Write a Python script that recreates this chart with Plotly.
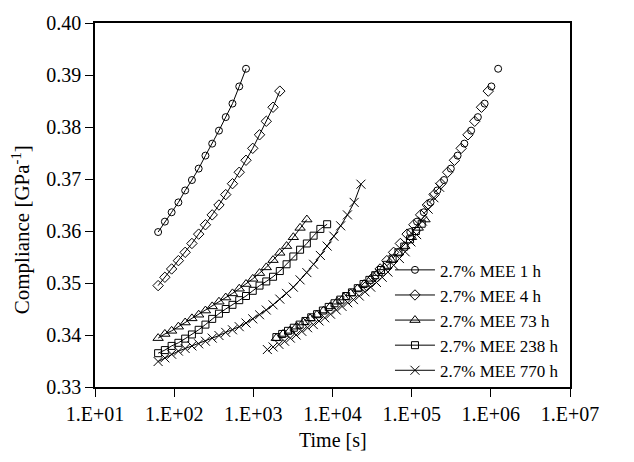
import plotly.graph_objects as go

# Creep compliance of 2.7% MEE specimens after different ageing times.
# Each ageing time has a short-term test (drawn with lines) and the same
# data shifted onto the long-term master curve (markers only).

labels = ["2.7% MEE 1 h", "2.7% MEE 4 h", "2.7% MEE 73 h",
          "2.7% MEE 238 h", "2.7% MEE 770 h"]

# --- short-term tests: time [s] and compliance [1/GPa] ---
t_1h = [62.7, 76.3, 92.9, 113.1, 137.7, 167.6, 204.0, 248.3, 302.3, 368.0,
        447.9, 545.3, 663.7, 808.0]
c_1h = [0.3598, 0.3618, 0.3636, 0.3655, 0.3678, 0.3698, 0.3720, 0.3745,
        0.3768, 0.3793, 0.3819, 0.3845, 0.3878, 0.3912]

t_4h = [62.7, 76.3, 92.9, 113.1, 137.7, 167.6, 204.0, 248.3, 302.3, 368.0,
        447.9, 545.3, 663.7, 808.0, 983.5, 1197, 1457, 1774, 2160]
c_4h = [0.3495, 0.3511, 0.3527, 0.3543, 0.3559, 0.3576, 0.3594, 0.3612,
        0.3631, 0.3650, 0.3670, 0.3691, 0.3713, 0.3736, 0.3759, 0.3785,
        0.3811, 0.3838, 0.3869]

t_73h = [62.7, 76.3, 92.9, 113.1, 137.7, 167.6, 204.0, 248.3, 302.3, 368.0,
         447.9, 545.3, 663.7, 808.0, 983.5, 1197, 1457, 1774, 2160, 2629,
         3200, 3896, 4742]
c_73h = [0.3394, 0.3402, 0.3408, 0.3416, 0.3424, 0.3432, 0.3439, 0.3447,
         0.3455, 0.3464, 0.3472, 0.3480, 0.3489, 0.3498, 0.3508, 0.3519,
         0.3530, 0.3544, 0.3558, 0.3571, 0.3588, 0.3606, 0.3622]

t_238h = [62.7, 76.3, 92.9, 113.1, 137.7, 167.6, 204.0, 248.3, 302.3, 368.0,
          447.9, 545.3, 663.7, 808.0, 983.5, 1197, 1457, 1774, 2160, 2629,
          3200, 3896, 4742, 5773, 7027, 8554]
c_238h = [0.3365, 0.3371, 0.3379, 0.3385, 0.3393, 0.3401, 0.3410, 0.3420,
          0.3431, 0.3441, 0.3450, 0.3458, 0.3467, 0.3475, 0.3485, 0.3495,
          0.3503, 0.3512, 0.3523, 0.3536, 0.3551, 0.3564, 0.3576, 0.3591,
          0.3604, 0.3613]

t_770h = [62.7, 76.3, 92.9, 113.1, 137.7, 167.6, 204.0, 248.3, 302.3, 368.0,
          447.9, 545.3, 663.7, 808.0, 983.5, 1197, 1457, 1774, 2160, 2629,
          3200, 3896, 4742, 5773, 7027, 8554, 10413, 12676, 15431, 18784,
          22866]
c_770h = [0.3349, 0.3356, 0.3363, 0.3369, 0.3374, 0.3379, 0.3383, 0.3388,
          0.3394, 0.3399, 0.3405, 0.3410, 0.3416, 0.3423, 0.3431, 0.3439,
          0.3448, 0.3458, 0.3469, 0.3480, 0.3492, 0.3506, 0.3520, 0.3536,
          0.3553, 0.3571, 0.3590, 0.3610, 0.3631, 0.3655, 0.3690]

# --- shifted data on the master curve ---
ts_1h = [95994, 116815, 142230, 173156, 210819, 256596, 312324, 380147,
         462821, 563408, 685735, 834854, 1016125, 1237048]
cs_1h = c_1h

ts_4h = [26930, 32771, 39901, 48576, 59142, 71984, 87618, 106645, 129838,
         158056, 192373, 234206, 285059, 347036, 422413, 514112, 625782,
         761933, 927720]
cs_4h = c_4h

ts_73h = [1950, 2373, 2889, 3517, 4282, 5212, 6344, 7722, 9402, 11445,
          13930, 16959, 20641, 25129, 30587, 37227, 45313, 55171, 67176,
          81762, 99520, 121166, 147476]
cs_73h = c_73h

ts_238h = [1955, 2316, 2742, 3246, 3844, 4551, 5389, 6385, 7557, 8950,
           10600, 12548, 14866, 17602, 20845, 24683, 29227, 34613, 40997,
           48542, 57475, 68071, 80597, 95443, 113050, 133875]
cs_238h = [0.3396, 0.3402, 0.3408, 0.3414, 0.3420, 0.3427, 0.3434, 0.3440,
           0.3447, 0.3454, 0.3461, 0.3468, 0.3475, 0.3482, 0.3490, 0.3498,
           0.3506, 0.3515, 0.3525, 0.3535, 0.3547, 0.3559, 0.3570, 0.3584,
           0.3600, 0.3614]

ts_770h = [1504, 1777, 2101, 2482, 2934, 3467, 4097, 4841, 5722, 6761,
           7990, 9443, 11159, 13187, 15584, 18416, 21763, 25720, 30394,
           35916, 42444, 50157, 59272, 70048, 82777, 97837, 115635, 136648,
           161493, 190850, 225550]
cs_770h = [0.3372, 0.3377, 0.3382, 0.3388, 0.3394, 0.3400, 0.3407, 0.3414,
           0.3420, 0.3427, 0.3433, 0.3440, 0.3448, 0.3455, 0.3462, 0.3468,
           0.3475, 0.3483, 0.3492, 0.3501, 0.3511, 0.3521, 0.3534, 0.3547,
           0.3560, 0.3579, 0.3593, 0.3619, 0.3642, 0.3664, 0.3684]

x_tickvals = [1e1, 1e2, 1e3, 1e4, 1e5, 1e6, 1e7]
x_ticktext = ["1.E+01", "1.E+02", "1.E+03", "1.E+04", "1.E+05", "1.E+06",
              "1.E+07"]
y_tickvals = [0.33, 0.34, 0.35, 0.36, 0.37, 0.38, 0.39, 0.40]

symbols = ["circle-open", "diamond-open", "triangle-up-open",
           "square-open", "x-thin-open"]
sizes = [7, 8, 9, 7, 9]

short = [(t_1h, c_1h), (t_4h, c_4h), (t_73h, c_73h), (t_238h, c_238h),
         (t_770h, c_770h)]
shifted = [(ts_1h, cs_1h), (ts_4h, cs_4h), (ts_73h, cs_73h),
           (ts_238h, cs_238h), (ts_770h, cs_770h)]

FONT = "Liberation Serif, DejaVu Serif, serif"
TICK_SIZE = 20

fig = go.Figure()
for i, name in enumerate(labels):
    t, c = short[i]
    fig.add_trace(go.Scatter(
        x=t, y=c, mode="lines+markers", name=name,
        line=dict(color="black", width=1),
        marker=dict(symbol=symbols[i], size=sizes[i], color="black",
                    line=dict(color="black", width=1)),
    ))
for i, name in enumerate(labels):
    t, c = shifted[i]
    fig.add_trace(go.Scatter(
        x=t, y=c, mode="markers", name=name, showlegend=False,
        marker=dict(symbol=symbols[i], size=sizes[i], color="black",
                    line=dict(color="black", width=1)),
    ))

fig.update_layout(
    width=634, height=462,
    margin=dict(l=95, r=64, t=13, b=75),
    paper_bgcolor="white", plot_bgcolor="white",
    font=dict(family=FONT, size=TICK_SIZE, color="black"),
    showlegend=True,
    legend=dict(x=0.621, y=0.370, xanchor="left", yanchor="top",
                bgcolor="rgba(0,0,0,0)", borderwidth=0, itemwidth=40,
                font=dict(family=FONT, size=17, color="black"),
                tracegroupgap=0, itemsizing="trace"),
    xaxis=dict(type="log", range=[1, 7], tickvals=x_tickvals,
               ticktext=x_ticktext, ticks="outside", ticklen=8,
               tickwidth=1, tickcolor="black", showline=True,
               linecolor="black", linewidth=1.5, mirror=True,
               showgrid=False, zeroline=False,
               tickfont=dict(family=FONT, size=TICK_SIZE, color="black")),
    yaxis=dict(range=[0.33, 0.40], tickvals=y_tickvals, tickformat=".2f",
               ticks="outside", ticklen=8, tickwidth=1, tickcolor="black",
               showline=True, linecolor="black", linewidth=1.5, mirror=True,
               showgrid=False, zeroline=False,
               tickfont=dict(family=FONT, size=TICK_SIZE, color="black")),
    annotations=[
        dict(text="Time [s]", xref="paper", yref="paper", x=0.5,
             y=-0.146, xanchor="center", yanchor="middle", showarrow=False,
             font=dict(family=FONT, size=TICK_SIZE, color="black")),
        dict(text="Compliance [GPa<sup>-1</sup>]", xref="paper",
             yref="paper", x=-0.156, y=0.433, xanchor="center",
             yanchor="middle", textangle=-90, showarrow=False,
             font=dict(family=FONT, size=21, color="black")),
    ],
)

fig.write_html("out.html")
